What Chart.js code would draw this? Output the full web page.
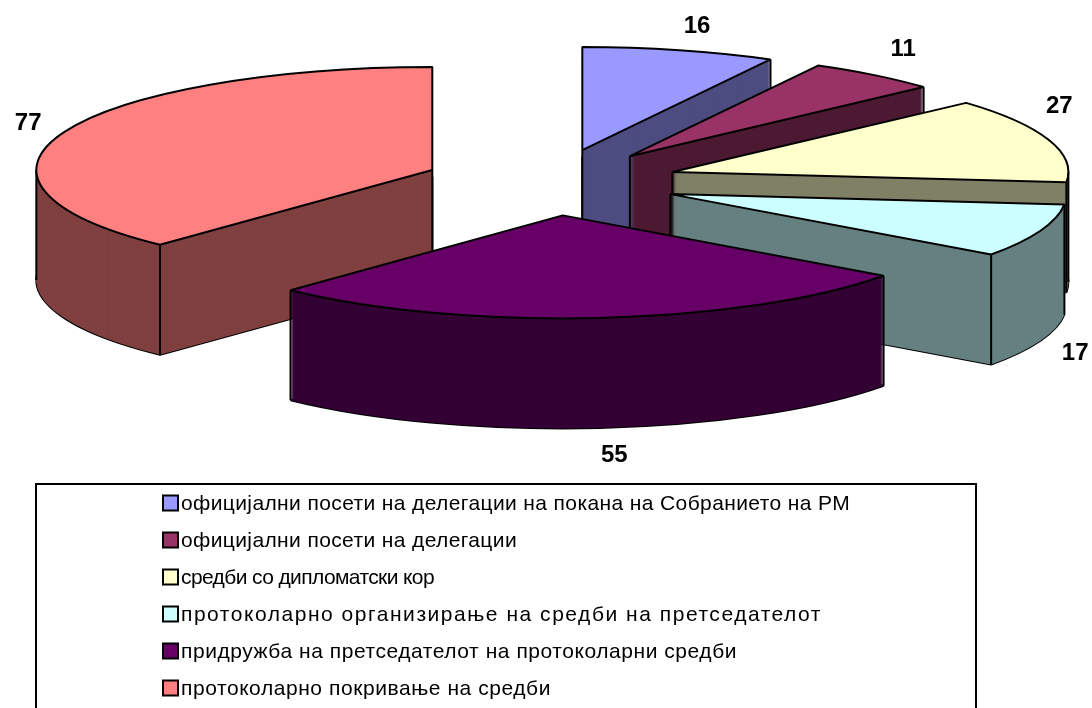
<!DOCTYPE html>
<html><head><meta charset="utf-8">
<style>html,body{margin:0;padding:0;background:#fff;overflow:hidden}canvas{display:block}</style>
<script src="https://cdn.jsdelivr.net/npm/chart.js@4"></script>
</head><body>
<canvas id="c" width="1092" height="708"></canvas>
<script>
const categories = [
  'официјални посети на делегации на покана на Собранието на РМ',
  'официјални посети на делегации',
  'средби со дипломатски кор',
  'протоколарно организирање на средби на претседателот',
  'придружба на претседателот на протоколарни средби',
  'протоколарно покривање на средби'
];
const values = [16, 11, 27, 17, 55, 77];
const topColors = ['#9999FF', '#993366', '#FFFFCC', '#CCFFFF', '#660066', '#FF8080'];
const sideColors = ['#4D4D80', '#4D1A33', '#808066', '#668080', '#330033', '#804040'];
const labelNudge = [[19,-24],[30,-26],[12,-33],[36,13],[16,27],[-35,-9]];
const legendTextWidths = [669, 336, 253, 641, 556, 370];

const CX = 551, CY = 182.3, RX = 396, RY = 103, DEPTH = 110, EXPLODE = 0.3226;

function patchedStroke(ctx, fn) {
  const native = ctx.stroke;
  ctx.stroke = function () {
    ctx.save(); ctx.setTransform(1,0,0,1,0,0); native.call(ctx); ctx.restore();
  };
  fn();
  delete ctx.stroke;
}

function project(arc, angle, frac, y) {
  const mid = (arc.startAngle + arc.endAngle) / 2;
  return {
    x: CX + (Math.cos(mid) * EXPLODE + Math.cos(angle) * frac) * arc.outerRadius,
    y: CY + (Math.sin(mid) * EXPLODE + Math.sin(angle) * frac) * arc.outerRadius * (RY / RX) + y
  };
}

function drawFace(ctx, arc, dy, style) {
  const mid = (arc.startAngle + arc.endAngle) / 2;
  const saved = arc.options;
  arc.options = Object.assign({}, saved, {offset: 0, spacing: 0, borderAlign: 'center'}, style);
  ctx.save();
  ctx.translate(CX, CY + dy);
  ctx.scale(1, RY / RX);
  ctx.translate(Math.cos(mid) * EXPLODE * arc.outerRadius, Math.sin(mid) * EXPLODE * arc.outerRadius);
  ctx.translate(-arc.x, -arc.y);
  arc.draw(ctx);
  ctx.restore();
  arc.options = saved;
}

function visibleEdges(a) {
  const s = a.startAngle, e = a.endAngle, out = [];
  if (Math.cos(s) < -1e-6 || Math.cos(e) > 1e-6) out.push(project(a, s, 0, 0));
  if (Math.sin(s) > 0 || Math.cos(s) < -1e-6) out.push(project(a, s, 1, 0));
  if (Math.sin(e) > 0 || Math.cos(e) > 1e-6) out.push(project(a, e, 1, 0));
  // silhouette tangents of the outer wall
  for (let k = -2; k <= 4; k++) {
    const t = k * Math.PI;
    if (t > s && t < e) out.push(project(a, t, 1, 0));
  }
  return out;
}

const pie3d = {
  id: 'pie3d',
  beforeDatasetDraw(chart, args) {
    const ctx = chart.ctx;
    const arcs = chart.getDatasetMeta(0).data.map((a, i) => ({a, i}));
    arcs.sort((p, q) => project(p.a, 0, 0, 0).y - project(q.a, 0, 0, 0).y);
    patchedStroke(ctx, () => {
      arcs.forEach(({a, i}) => {
        drawFace(ctx, a, DEPTH, {backgroundColor: sideColors[i], borderColor: '#000', borderWidth: 2});
        for (let d = DEPTH; d >= 0; d -= 1) {
          drawFace(ctx, a, d, {backgroundColor: sideColors[i], borderWidth: 0});
        }
        ctx.save();
        ctx.strokeStyle = '#000'; ctx.lineWidth = 2;
        visibleEdges(a).forEach(p => { ctx.beginPath(); ctx.moveTo(p.x, p.y); ctx.lineTo(p.x, p.y + DEPTH); ctx.stroke(); });
        ctx.restore();
        drawFace(ctx, a, 0, {backgroundColor: topColors[i], borderColor: '#000', borderWidth: 2});
      });
    });
    return false;
  },
  afterDraw(chart) {
    const ctx = chart.ctx;
    const arcs = chart.getDatasetMeta(0).data;
    ctx.save();
    // value labels
    ctx.font = 'bold 24px "Liberation Sans", Arial, sans-serif';
    ctx.fillStyle = '#000'; ctx.textAlign = 'center'; ctx.textBaseline = 'middle';
    arcs.forEach((a, i) => {
      const mid = (a.startAngle + a.endAngle) / 2;
      const p = project(a, mid, 1, Math.sin(mid) > 0 ? DEPTH : 0);
      ctx.fillText(String(values[i]), p.x - (CX - 549.7) + labelNudge[i][0], p.y + labelNudge[i][1]);
    });
    // legend
    const L = {left: 36, top: 484, right: 976, bottom: 716, sw: 15, x: 163, y0: 503, step: 37};
    ctx.strokeStyle = '#000'; ctx.lineWidth = 2;
    ctx.strokeRect(L.left, L.top, L.right - L.left, L.bottom - L.top);
    ctx.font = '21px "Liberation Sans", Arial, sans-serif';
    ctx.textAlign = 'left';
    categories.forEach((c, i) => {
      const y = L.y0 + i * L.step;
      ctx.fillStyle = topColors[i];
      ctx.fillRect(L.x, y - L.sw / 2, L.sw, L.sw);
      ctx.strokeRect(L.x, y - L.sw / 2, L.sw, L.sw);
      ctx.fillStyle = '#000';
      ctx.letterSpacing = '0px';
      const natural = ctx.measureText(c).width;
      ctx.letterSpacing = ((legendTextWidths[i] - natural) / c.length).toFixed(3) + 'px';
      ctx.fillText(c, L.x + 18, y + 1);
    });
    ctx.restore();
  }
};

new Chart(document.getElementById('c'), {
  type: 'pie',
  data: {
    labels: categories,
    datasets: [{
      data: values,
      backgroundColor: topColors,
      borderColor: '#000',
      borderWidth: 2,
      radius: RX,
      clip: false
    }]
  },
  options: {
    responsive: false,
    animation: false,
    rotation: 0,
    plugins: {legend: {display: false}, tooltip: {enabled: false}}
  },
  plugins: [pie3d]
});
</script>
</body></html>
